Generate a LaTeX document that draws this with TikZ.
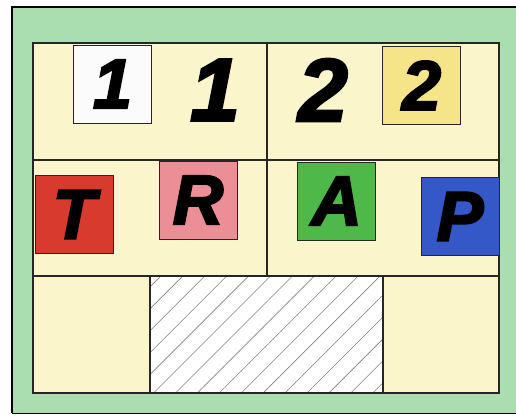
\documentclass[tikz,border=0pt]{standalone}
\usepackage{fontspec}
\usepackage{tikz}
\usetikzlibrary{patterns.meta}
\newfontfamily\tilefont[FakeBold=3]{Liberation Sans Bold Italic}
\definecolor{FrameGreen}{RGB}{170,221,176}
\definecolor{BoardCream}{RGB}{250,245,202}
\definecolor{TileRed}{RGB}{216,58,46}
\definecolor{TilePink}{RGB}{236,142,150}
\definecolor{TileGreen}{RGB}{78,184,72}
\definecolor{TileBlue}{RGB}{52,88,200}
\definecolor{TileYellow}{RGB}{246,228,136}
\tikzset{
  % tessere con lettere e cifre
  tile/.style={draw=black!85,line width=1pt,minimum size=78,inner sep=0,outer sep=0,
    font=\tilefont\fontsize{70}{70}\selectfont},
  tile white/.style={tile,fill=white!97!gray},
  tile yellow/.style={tile,fill=TileYellow},
  tile red/.style={tile,fill=TileRed},
  tile pink/.style={tile,fill=TilePink},
  tile green/.style={tile,fill=TileGreen},
  tile blue/.style={tile,fill=TileBlue},
  % cifre senza tessera
  digit/.style={inner sep=0,font=\tilefont\fontsize{89}{89}\selectfont},
  % righe del tabellone
  grid line/.style={black!85,line width=1.3pt}
}
\begin{document}
\begin{tikzpicture}[x=1pt,y=-1pt]
  \useasboundingbox (0,0) rectangle (516,415);
  % cornice verde
  \fill[FrameGreen] (12,7) rectangle (516,413);
  \draw[line width=1.5pt] (516,7) -- (12,7) -- (12,413);
  \draw[line width=0.8pt] (12,413) -- (516,413);
  % tabellone
  \fill[BoardCream] (33,43) rectangle (499,393);
  % zona tratteggiata
  \fill[white] (150,276) rectangle (383,393);
  \fill[pattern={Lines[angle=45,distance=15.5pt,line width=0.6pt]},pattern color=gray]
    (150,276) rectangle (383,393);
  \draw[grid line] (150,276) -- (150,393) (383,276) -- (383,393);
  \draw[grid line] (33,160) -- (499,160) (33,276) -- (499,276) (267,43) -- (267,276);
  \draw[grid line,line width=1.8pt] (33,43) rectangle (499,393);
  % prima riga
  \node[tile white] (boxOne) at (112.5,84) {1};
  \node[digit] (digitOne) at (215,90) {1};
  \node[digit] (digitTwo) at (323,90) {2};
  \node[tile yellow] (boxTwo) at (421.5,85.5) {2};
  % seconda riga
  \node[tile red] (tileT) at (74,214.5) {T};
  \node[tile pink] (tileR) at (198,200) {R};
  \node[tile green] (tileA) at (336.5,201) {A};
  \node[tile blue] (tileP) at (460,216.5) {P};
\end{tikzpicture}
\end{document}
